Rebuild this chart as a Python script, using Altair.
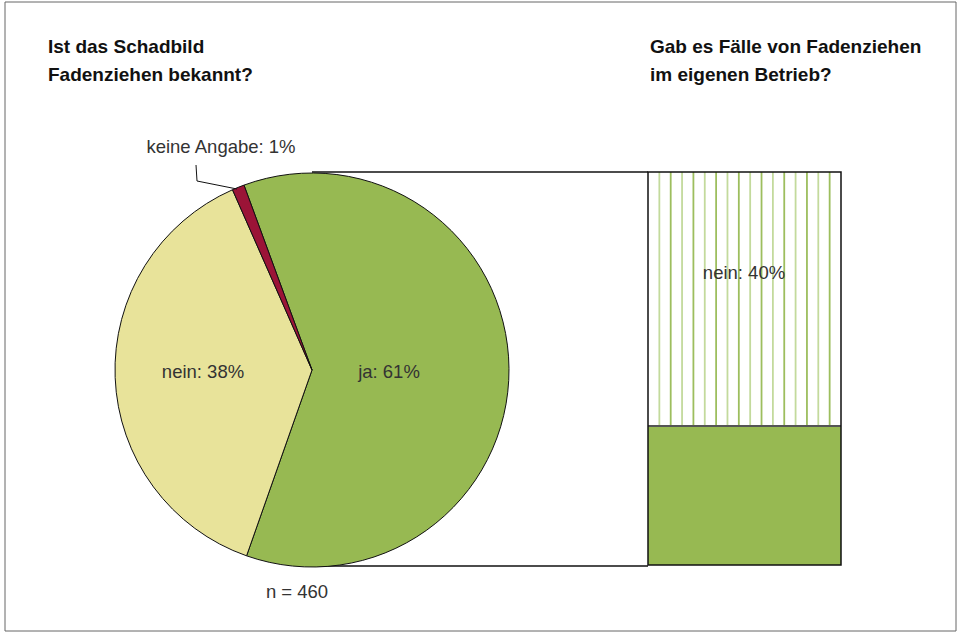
import altair as alt
import pandas as pd
import numpy as np

# ---- data ----
pie_categories = ["ja", "nein", "keine Angabe"]
pie_values = [61, 38, 1]
pie_colors = ["#97b952", "#e8e39a", "#9b1437"]

bar_categories = ["ja", "nein"]          # bottom, top
bar_heights = [35.4, 64.6]               # visual proportions
bar_label = "nein: 40%"

n_text = "n = 460"
title_left = ["Ist das Schadbild", "Fadenziehen bekannt?"]
title_right = ["Gab es Fälle von Fadenziehen", "im eigenen Betrieb?"]

# ---- geometry / style ----
CX, CY, R = 312, 370, 197
BAR_X0, BAR_X1 = 648, 841
BAR_TOP, BAR_BOT = 172, 565
start = np.deg2rad(-20.2)
TXT = "#333333"
FONT = "Liberation Sans"

one = pd.DataFrame({"a": [0]})

pie_df = pd.DataFrame({"cat": pie_categories, "val": pie_values,
                       "ord": list(range(len(pie_categories)))})

bar_df = pd.DataFrame({"cat": bar_categories, "h": bar_heights})
bar_df["y1"] = bar_df["h"].cumsum()
bar_df["y0"] = bar_df["y1"] - bar_df["h"]
split = float(bar_df["y1"].iloc[0])

yscale = alt.Scale(domain=[0, 100], range=[BAR_BOT, BAR_TOP], nice=False, zero=False)

hatch_df = pd.DataFrame({"k": np.arange(1, 17)})
hatch_df["shade"] = hatch_df["k"] % 2
hatch_df["top"] = 100.0
hatch_df["bot"] = split

frame = alt.Chart(one).mark_rect(fill="white", stroke="#666666", strokeWidth=1).encode(
    x=alt.value(5), x2=alt.value(956), y=alt.value(2), y2=alt.value(631))

conn = alt.Chart(pd.DataFrame({"yy": [BAR_TOP, BAR_BOT + 1]})).mark_rule(
    color="#111111", strokeWidth=1.5).encode(
    x=alt.value(CX), x2=alt.value(BAR_X0), y=alt.Y("yy:Q", scale=None), )

pie = alt.Chart(pie_df).mark_arc(radius=R, stroke="#111111", strokeWidth=1).encode(
    theta=alt.Theta("val:Q", stack=True,
                    scale=alt.Scale(domain=[0, 100], range=[start, start + 2 * np.pi])),
    order=alt.Order("ord:Q"),
    color=alt.Color("cat:N", scale=alt.Scale(domain=pie_categories, range=pie_colors),
                    legend=None),
    x=alt.value(CX), y=alt.value(CY))

def label(txt, x, y, size=18.5, weight="normal", align="center", color=TXT):
    return alt.Chart(one).mark_text(text=txt, font=FONT, fontSize=size, fontWeight=weight,
                                    align=align, baseline="middle", color=color).encode(
        x=alt.value(x), y=alt.value(y))

lbl_ja = label(f"{pie_categories[0]}: {pie_values[0]}%", 389, 372)
lbl_nein = label(f"{pie_categories[1]}: {pie_values[1]}%", 203, 372)
lbl_ka = label(f"{pie_categories[2]}: {pie_values[2]}%", 221, 147)
lbl_n = label(n_text, 297, 592)

lead1 = alt.Chart(one).mark_rule(color="#111111", strokeWidth=1).encode(
    x=alt.value(196), y=alt.value(165), x2=alt.value(197), y2=alt.value(181))
lead2 = alt.Chart(one).mark_rule(color="#111111", strokeWidth=1).encode(
    x=alt.value(197), y=alt.value(181), x2=alt.value(237), y2=alt.value(189))

bar_bottom = alt.Chart(bar_df.iloc[[0]]).mark_rect(fill="#97b952").encode(
    x=alt.value(BAR_X0), x2=alt.value(BAR_X1),
    y=alt.Y("y0:Q", scale=yscale, axis=None), y2="y1:Q")
bar_top = alt.Chart(bar_df.iloc[[1]]).mark_rect(fill="white").encode(
    x=alt.value(BAR_X0), x2=alt.value(BAR_X1),
    y=alt.Y("y0:Q", scale=yscale, axis=None), y2="y1:Q")

hatch = alt.Chart(hatch_df).mark_rule(strokeWidth=1.8).encode(
    x=alt.X("k:Q", scale=alt.Scale(domain=[0, 17], range=[BAR_X0, BAR_X1], nice=False, zero=False), axis=None),
    y=alt.Y("top:Q", scale=yscale, axis=None), y2="bot:Q",
    stroke=alt.Stroke("shade:N", scale=alt.Scale(domain=[1, 0], range=["#c3da9c", "#9dbe5e"]),
                      legend=None))

split_line = alt.Chart(bar_df.iloc[[0]]).mark_rule(color="#555555", strokeWidth=2).encode(
    x=alt.value(BAR_X0), x2=alt.value(BAR_X1), y=alt.Y("y1:Q", scale=yscale, axis=None))

bar_outline = alt.Chart(one).mark_rect(fill=None, stroke="#111111", strokeWidth=1.5).encode(
    x=alt.value(BAR_X0), x2=alt.value(BAR_X1), y=alt.value(BAR_TOP), y2=alt.value(BAR_BOT))

lbl_bar = label(bar_label, 744, 273)

titles = [label(t, 48, 47 + 28 * i, size=19, weight="bold", align="left", color="#111111")
          for i, t in enumerate(title_left)]
titles += [label(t, 650, 47 + 28 * i, size=19, weight="bold", align="left", color="#111111")
           for i, t in enumerate(title_right)]

chart = alt.layer(frame, conn, pie, lead1, lead2, lbl_ja, lbl_nein, lbl_ka, lbl_n,
                  bar_bottom, bar_top, hatch, split_line, bar_outline, lbl_bar, *titles
                  ).properties(width=960, height=632, padding=0, autosize="none"
                  ).configure_view(stroke=None)

chart.save("out.html", embed_options={"renderer": "svg", "actions": False})
